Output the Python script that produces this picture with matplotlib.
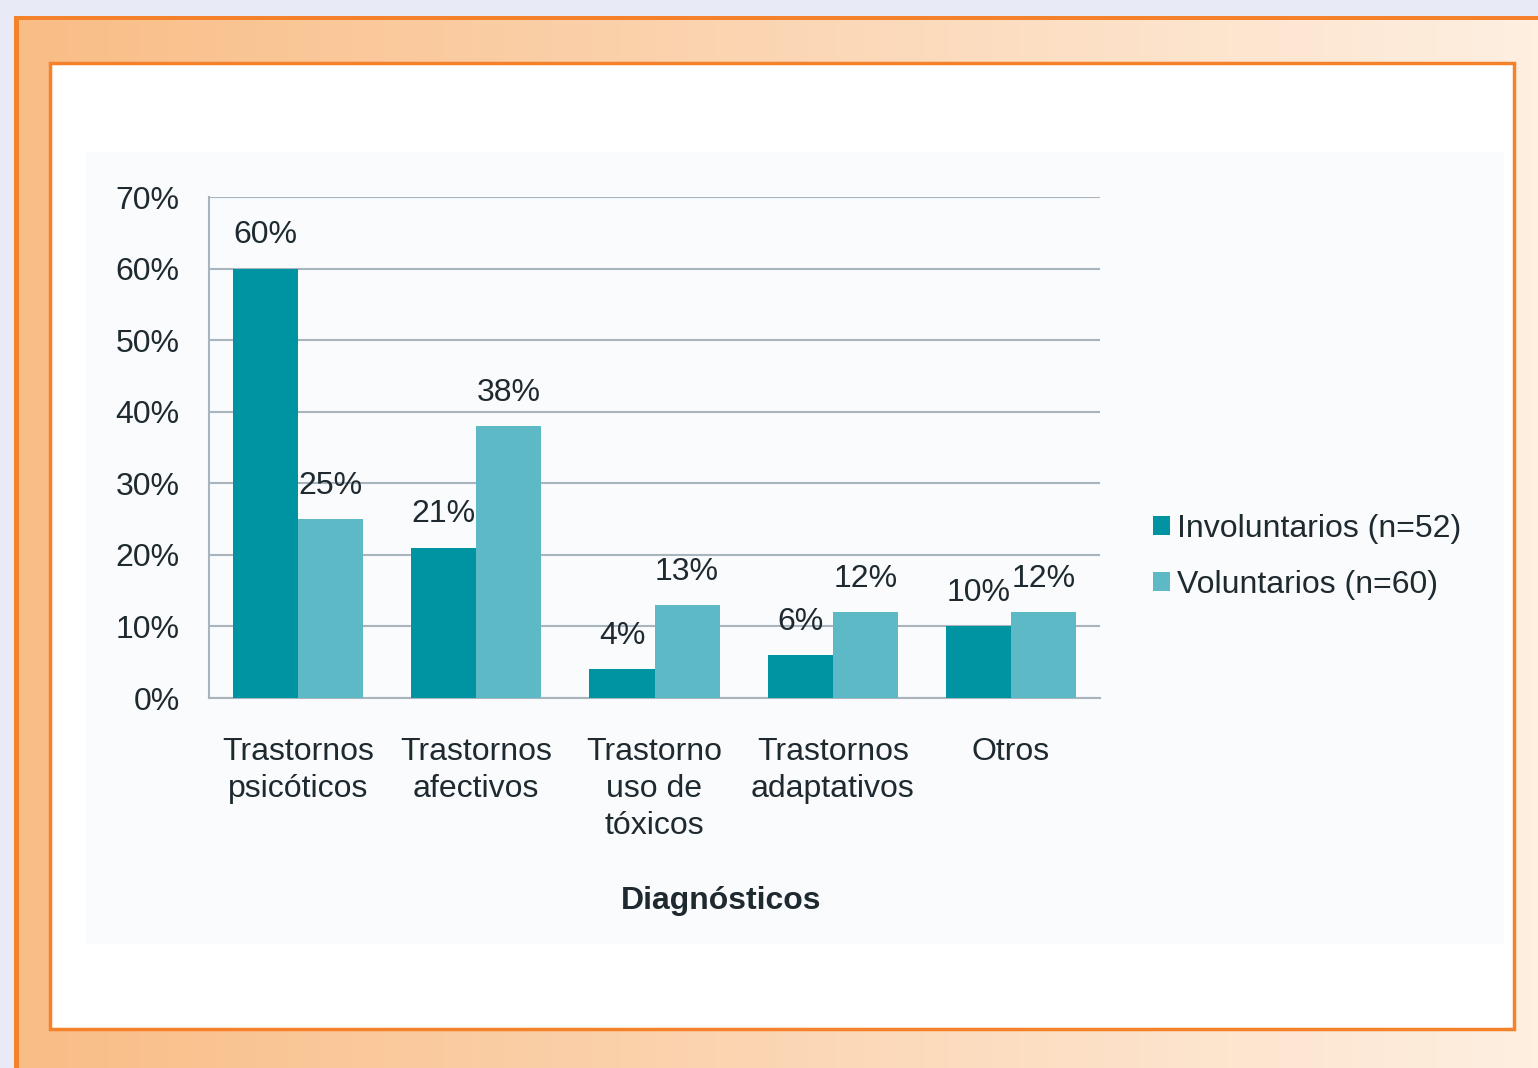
import numpy as np
import matplotlib
matplotlib.use("Agg")
import matplotlib.pyplot as plt
from matplotlib.patches import Rectangle
from matplotlib.colors import to_rgb

plt.rcParams['font.family'] = ['Liberation Sans', 'DejaVu Sans']

categories = ["Trastornos\npsicóticos", "Trastornos\nafectivos", "Trastorno\nuso de\ntóxicos",
              "Trastornos\nadaptativos", "Otros"]
involuntarios = [60, 21, 4, 6, 10]
voluntarios = [25, 38, 13, 12, 12]
labels_inv = ["60%", "21%", "4%", "6%", "10%"]
labels_vol = ["25%", "38%", "13%", "12%", "12%"]
series_names = ["Involuntarios (n=52)", "Voluntarios (n=60)"]

W, H = 1538, 1068
txt = '#1e2a30'
orange = '#f5822a'
fs = 23

fig = plt.figure(figsize=(W / 100, H / 100), dpi=100)

# background frame
bg = fig.add_axes([0, 0, 1, 1], zorder=-1)
bg.set_xlim(0, W)
bg.set_ylim(H, 0)
bg.axis('off')
bg.add_patch(Rectangle((0, 0), W, H, fc='#e8ebf5', ec='none'))
c1, c2 = np.array(to_rgb('#f9bd86')), np.array(to_rgb('#feefe1'))
t = np.linspace(0, 1, 256)
grad = (c1[None, :] * (1 - t[:, None]) + c2[None, :] * t[:, None])[None, :, :]
bg.imshow(grad, extent=(14, W, H, 16), aspect='auto', zorder=1)
bg.add_patch(Rectangle((14, 16), W - 14, 4, fc=orange, ec='none', zorder=2))
bg.add_patch(Rectangle((14, 16), 5, H - 16, fc=orange, ec='none', zorder=2))
bg.add_patch(Rectangle((50, 63), 1464, 966, fc='white', ec=orange, lw=2.5, zorder=3))
bg.add_patch(Rectangle((86, 152), 1418, 792, fc='#fafbfd', ec='none', zorder=4))

ax = fig.add_axes([209 / W, 1 - 698 / H, (1100 - 209) / W, (698 - 197) / H])
ax.set_facecolor('none')

x = np.arange(len(categories))
bw = 0.365
b1 = ax.bar(x - bw / 2, involuntarios, bw, color='#0093a1', label=series_names[0], zorder=3)
b2 = ax.bar(x + bw / 2, voluntarios, bw, color='#5eb9c6', label=series_names[1], zorder=3)

for rects, labs in [(b1, labels_inv), (b2, labels_vol)]:
    for r, lab in zip(rects, labs):
        ax.annotate(lab, (r.get_x() + r.get_width() / 2, r.get_height()),
                    xytext=(0, 24), textcoords='offset points', ha='center', va='center',
                    fontsize=fs, color=txt)

ax.set_xlim(-0.5, len(categories) - 0.5)
ax.set_ylim(0, 70)
ax.set_yticks(np.arange(0, 71, 10))
ax.set_yticklabels([f"{v}%" for v in range(0, 71, 10)])
ax.yaxis.grid(True, color='#a9b5bc', lw=1.5, zorder=0)
ax.set_xticks(x)
ax.set_xticklabels(categories, linespacing=1.3)
ax.tick_params(axis='y', length=0, pad=21, labelsize=fs, labelcolor=txt)
ax.tick_params(axis='x', length=0, pad=28, labelsize=fs, labelcolor=txt)
for s in ['top', 'right']:
    ax.spines[s].set_visible(False)
for s in ['left', 'bottom']:
    ax.spines[s].set_color('#a9b5bc')
    ax.spines[s].set_linewidth(1.5)

ax.set_xlabel("Diagnósticos", fontsize=fs, fontweight='bold', color=txt)
ax.xaxis.set_label_coords((721 - 209) / (1100 - 209), -(886 - 698) / (698 - 197))

fig.legend(loc='center left', bbox_to_anchor=(1124 / W, 1 - 557 / H), frameon=False,
           fontsize=fs, handlelength=0.55, handleheight=0.55, handletextpad=0.2,
           labelspacing=0.82, labelcolor=txt)

fig.savefig("out.png", dpi=100)
